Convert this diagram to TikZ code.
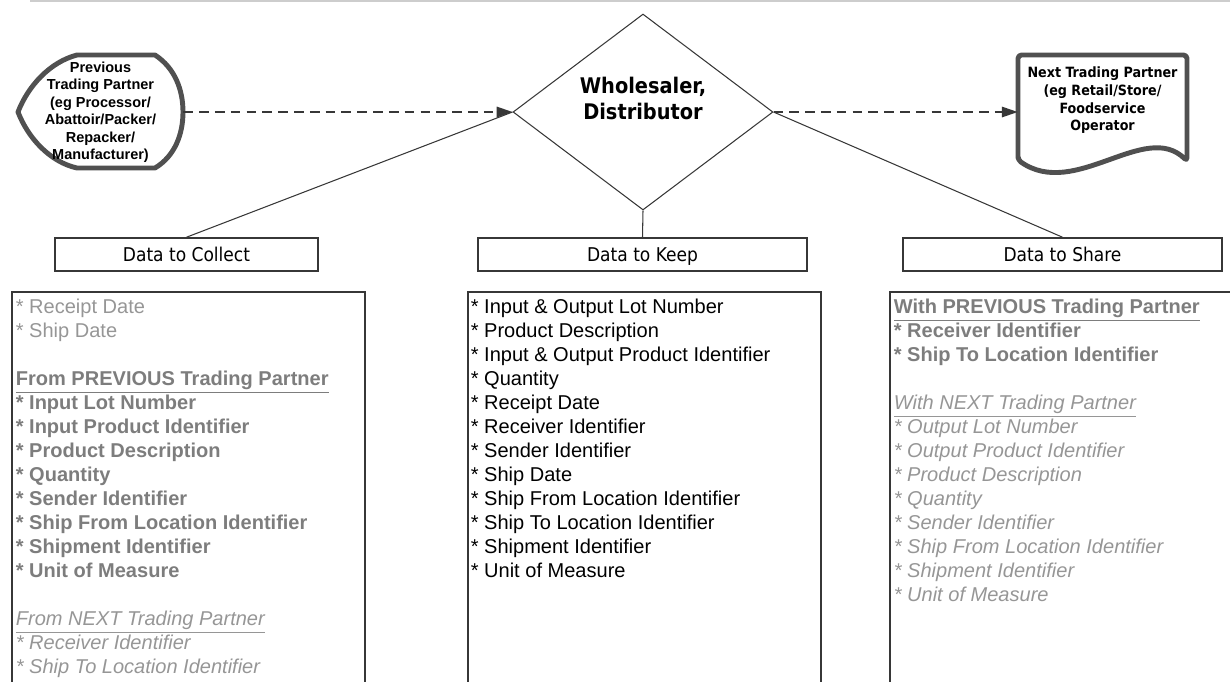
\documentclass[tikz,border=0pt]{standalone}
\usepackage{fontspec}
\setmainfont{Liberation Sans}
\newfontfamily\tahoma{DejaVu Sans Condensed}
\usetikzlibrary{shapes.geometric,arrows.meta}

\definecolor{shapegray}{RGB}{80,80,80}
\definecolor{linegray}{RGB}{55,55,55}
\definecolor{darkitem}{RGB}{125,125,125}
\definecolor{lightitem}{RGB}{150,150,150}
\definecolor{rulegray}{RGB}{205,205,205}

\newcommand{\plainitem}[1]{\textcolor{lightitem}{* #1}}
\newcommand{\bolditem}[1]{\textcolor{darkitem}{\bfseries * #1}}
\newcommand{\italitem}[1]{\textcolor{lightitem}{\itshape * #1}}
\newcommand{\boldhead}[1]{\textcolor{darkitem}{\bfseries\underline{#1}}}
\newcommand{\italhead}[1]{\textcolor{lightitem}{\itshape\underline{#1}}}

\begin{document}
\begin{tikzpicture}[x=0.02cm, y=-0.02cm,
    thinline/.style={draw=linegray, line width=0.6pt},
    flow/.style={draw=linegray, line width=0.8pt, dash pattern=on 5.5pt off 3.5pt,
      -{Triangle[length=9pt,width=6pt]}},
    partner/.style={draw=shapegray, line width=2.8pt, line join=round},
    heading/.style={draw=linegray, line width=0.9pt, minimum width=#1,
      minimum height=0.66cm, inner sep=0pt, text height=8pt, text depth=0pt,
      font=\tahoma\fontsize{10.8}{13}\selectfont},
    listbox/.style={draw=linegray, line width=0.9pt, anchor=north west,
      minimum width=#1, minimum height=9cm},
    listtext/.style={anchor=north west, align=left, inner sep=0pt,
      font=\fontsize{11.4}{13.66}\selectfont}]
    \clip (0,0) rectangle (1230,681);

    % Rule at the top
    \draw[rulegray, line width=1.2pt] (30,1) -- (1230,1);

    % Centre diamond
    \node[diamond, draw=linegray, line width=0.6pt, minimum width=5.2cm,
      minimum height=3.92cm, inner sep=0pt] (whole) at (643,112) {};
    \node[align=center, font=\tahoma\bfseries\fontsize{12.25}{14.8}\selectfont]
      (wholetext) at (643,98) {Wholesaler,\\Distributor};

    % Previous trading partner
    \draw[partner] (77,55) -- (155,55) .. controls (175,68) and (183,90) .. (183,112)
      .. controls (183,134) and (175,156) .. (155,168) -- (77,168)
      .. controls (50,162) and (28,138) .. (18,112)
      .. controls (28,86) and (50,62) .. (77,55) -- cycle;
    \node[minimum width=3.3cm, minimum height=2.26cm, inner sep=0pt, align=center,
      font=\bfseries\fontsize{8.25}{9.96}\selectfont] (prev) at (100.5,112)
      {Previous\\Trading Partner\\(eg Processor/\\Abattoir/Packer/\\Repacker/\\Manufacturer)};

    % Next trading partner
    \draw[partner, rounded corners=2pt] (1018,160) -- (1018,55) -- (1187,55) -- (1187,161)
      .. controls (1145,120) and (1075,200) .. (1018,160) -- cycle;
    \node[minimum width=3.38cm, inner sep=0pt, align=center,
      font=\tahoma\bfseries\fontsize{8.05}{10.07}\selectfont] (next) at (1102.5,100.5)
      {Next Trading Partner\\(eg Retail/Store/\\Foodservice\\Operator};

    % Flow of goods
    \draw[flow] (prev.east) -- (whole.west);
    \draw[flow] (whole.east) -- (whole.east -| next.west);

    % Headings
    \node[heading=5.26cm] (collect) at (186.5,254.5) {Data to Collect};
    \node[heading=6.58cm] (keep) at (642.5,254.5) {Data to Keep};
    \node[heading=6.38cm] (share) at (1062.5,254.5) {Data to Share};
    \draw[thinline] (whole.west) -- (collect.north);
    \draw[thinline] (whole.south) -- (keep.north);
    \draw[thinline] (whole.east) -- (share.north);

    % Lists
    \node[listbox=7.06cm] (collectlist) at (11,291) {};
    \node[listbox=7.06cm] (keeplist) at (467,291) {};
    \node[listbox=8cm] (sharelist) at (889,291) {};

    \node[listtext] (collectitems) at (15.5,299) {%
      \plainitem{Receipt Date}\\
      \plainitem{Ship Date}\\[13.66pt]
      \boldhead{From PREVIOUS Trading Partner}\\
      \bolditem{Input Lot Number}\\
      \bolditem{Input Product Identifier}\\
      \bolditem{Product Description}\\
      \bolditem{Quantity}\\
      \bolditem{Sender Identifier}\\
      \bolditem{Ship From Location Identifier}\\
      \bolditem{Shipment Identifier}\\
      \bolditem{Unit of Measure}\\[13.66pt]
      \italhead{From NEXT Trading Partner}\\
      \italitem{Receiver Identifier}\\
      \italitem{Ship To Location Identifier}};

    \node[listtext] (keepitems) at (470.5,299) {%
      * Input \& Output Lot Number\\
      * Product Description\\
      * Input \& Output Product Identifier\\
      * Quantity\\
      * Receipt Date\\
      * Receiver Identifier\\
      * Sender Identifier\\
      * Ship Date\\
      * Ship From Location Identifier\\
      * Ship To Location Identifier\\
      * Shipment Identifier\\
      * Unit of Measure};

    \node[listtext] (shareitems) at (893.5,299) {%
      \boldhead{With PREVIOUS Trading Partner}\\
      \bolditem{Receiver Identifier}\\
      \bolditem{Ship To Location Identifier}\\[13.66pt]
      \italhead{With NEXT Trading Partner}\\
      \italitem{Output Lot Number}\\
      \italitem{Output Product Identifier}\\
      \italitem{Product Description}\\
      \italitem{Quantity}\\
      \italitem{Sender Identifier}\\
      \italitem{Ship From Location Identifier}\\
      \italitem{Shipment Identifier}\\
      \italitem{Unit of Measure}};
  \end{tikzpicture}
\end{document}
